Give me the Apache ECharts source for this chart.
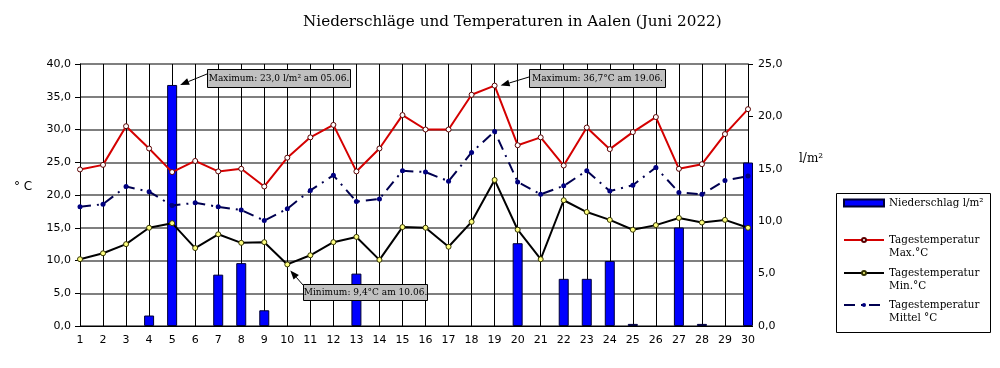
<!DOCTYPE html>
<html><head><meta charset="utf-8">
<script src="https://cdn.jsdelivr.net/npm/echarts@6/dist/echarts.min.js"></script>
<style>html,body{margin:0;padding:0;background:#fff}#c{width:1000px;height:368px}</style>
</head><body><div id="c"></div>
<script>
const days = ['1','2','3','4','5','6','7','8','9','10','11','12','13','14','15','16','17','18','19','20','21','22','23','24','25','26','27','28','29','30'];
const precipitation = [null,null,null,1.0,23.0,null,4.9,6.0,1.5,null,null,null,5.0,null,null,null,null,null,null,7.9,null,4.5,4.5,6.2,0.2,null,9.4,0.2,null,15.6];
const tempMax = [23.9,24.6,30.5,27.1,23.5,25.2,23.6,24.0,21.3,25.7,28.8,30.7,23.6,27.1,32.2,30.0,30.0,35.3,36.7,27.6,28.8,24.5,30.3,27.0,29.6,31.9,24.0,24.7,29.3,33.1];
const tempMin = [10.2,11.1,12.5,15.0,15.7,11.9,14.0,12.7,12.8,9.4,10.8,12.8,13.6,10.1,15.1,15.0,12.1,15.9,22.3,14.7,10.2,19.2,17.4,16.2,14.7,15.4,16.5,15.8,16.2,15.0];
const tempMean = [18.2,18.6,21.3,20.5,18.4,18.8,18.2,17.7,16.1,17.9,20.7,23.0,19.0,19.4,23.7,23.5,22.1,26.5,29.7,22.0,20.1,21.4,23.7,20.6,21.5,24.2,20.4,20.1,22.2,22.9];
const leftTicks = {min: 0, max: 40, interval: 5};
const rightTicks = {min: 0, max: 25, interval: 5};
const titleText = 'Niederschläge und Temperaturen in Aalen (Juni 2022)';
const seriesNames = ['Niederschlag l/m²', 'Tagestemperatur Max.°C', 'Tagestemperatur Min.°C', 'Tagestemperatur Mittel °C'];
const legendLabels = ['Niederschlag l/m²', '\nTagestemperatur\nMax.°C', '\nTagestemperatur\nMin.°C', '\nTagestemperatur\nMittel °C'];

const fmt = v => v.toFixed(1).replace('.', ',');
const SERIF = 'DejaVu Serif';
const SANS = 'DejaVu Sans';

const chart = echarts.init(document.getElementById('c'), null, {renderer: 'canvas'});

function legendAt(i, top) {
  return {
    data: [seriesNames[i]],
    left: 843, top: top, padding: 0,
    itemWidth: 40, itemHeight: i === 0 ? 7 : 5,
    selectedMode: false,
    icon: i === 0 ? 'rect' : undefined,
    formatter: () => legendLabels[i],
    textStyle: {fontFamily: SERIF, fontSize: 10.4, lineHeight: 13, color: '#000'}
  };
}

const option = {
  animation: false,
  backgroundColor: '#fff',
  title: {
    text: titleText, left: 298, top: 10,
    textStyle: {fontFamily: SERIF, fontSize: 15.2, fontWeight: 'normal', color: '#000'}
  },
  grid: {left: 80, right: 252, top: 64, bottom: 42, containLabel: false},
  legend: [legendAt(0, 196.5), legendAt(1, 220.5), legendAt(2, 253.5), legendAt(3, 285.5)],
  xAxis: {
    type: 'category', data: days, boundaryGap: false,
    axisLine: {lineStyle: {color: '#000', width: 1}},
    axisTick: {show: false},
    axisLabel: {fontFamily: SANS, fontSize: 11, color: '#000', margin: 9, interval: 0},
    splitLine: {show: true, interval: 0, lineStyle: {color: '#000', width: 1}}
  },
  yAxis: [
    {
      type: 'value', min: leftTicks.min, max: leftTicks.max, interval: leftTicks.interval,
      axisLine: {show: true, lineStyle: {color: '#000'}},
      axisTick: {show: true, length: 5, lineStyle: {color: '#000'}},
      axisLabel: {fontFamily: SANS, fontSize: 11, color: '#000', margin: 9, formatter: fmt},
      splitLine: {show: true, lineStyle: {color: '#555', width: 1.5}}
    },
    {
      type: 'value', position: 'right', min: rightTicks.min, max: rightTicks.max, interval: rightTicks.interval,
      axisLine: {show: true, lineStyle: {color: '#000'}},
      axisTick: {show: true, length: 5, lineStyle: {color: '#000'}},
      axisLabel: {fontFamily: SANS, fontSize: 11, color: '#000', margin: 10, formatter: fmt},
      splitLine: {show: false}
    }
  ],
  series: [
    {
      name: seriesNames[0], type: 'bar', yAxisIndex: 1, data: precipitation,
      barWidth: 10, clip: true,
      itemStyle: {color: '#0000ff', borderColor: '#000033', borderWidth: 1},
      z: 2
    },
    {
      name: seriesNames[1], type: 'line', data: tempMax,
      symbol: 'circle', symbolSize: 5, showAllSymbol: true,
      lineStyle: {color: '#d40000', width: 2},
      itemStyle: {color: '#ffffff', borderColor: '#5a0000', borderWidth: 1},
      z: 3
    },
    {
      name: seriesNames[2], type: 'line', data: tempMin,
      symbol: 'circle', symbolSize: 5, showAllSymbol: true,
      lineStyle: {color: '#000000', width: 2},
      itemStyle: {color: '#ffff80', borderColor: '#333300', borderWidth: 1},
      z: 3
    },
    {
      name: seriesNames[3], type: 'line', data: tempMean,
      symbol: 'circle', symbolSize: 5, showAllSymbol: true,
      lineStyle: {color: '#000050', width: 2, type: [11, 6, 2, 6]},
      itemStyle: {color: '#000080', borderColor: '#000080', borderWidth: 0},
      z: 3
    }
  ]
};
chart.setOption(option);

function arrow(sx, sy, tx, ty) {
  const dx = tx - sx, dy = ty - sy, L = Math.hypot(dx, dy);
  const ux = dx / L, uy = dy / L, hl = 9, hw = 3.5;
  const bx = tx - ux * hl, by = ty - uy * hl;
  return [
    {type: 'line', shape: {x1: sx, y1: sy, x2: bx, y2: by}, style: {stroke: '#000', lineWidth: 1}, z: 10},
    {type: 'polygon', shape: {points: [[tx, ty], [bx - uy * hw, by + ux * hw], [bx + uy * hw, by - ux * hw]]}, style: {fill: '#000'}, z: 10}
  ];
}
function box(x, y, w, h, text) {
  return [
    {type: 'rect', shape: {x: x, y: y, width: w, height: h}, style: {fill: '#c0c0c0', stroke: '#000', lineWidth: 1}, z: 10},
    {type: 'text', x: x + w / 2, y: y + h / 2 + 0.5, style: {text: text, fill: '#000', font: '9px "DejaVu Serif"', align: 'center', verticalAlign: 'middle'}, z: 11}
  ];
}

const iMaxRain = precipitation.indexOf(23.0);
const iMaxT = tempMax.indexOf(36.7);
const iMinT = tempMin.indexOf(9.4);
const pRain = chart.convertToPixel({xAxisIndex: 0, yAxisIndex: 1}, [iMaxRain, precipitation[iMaxRain]]);
const pMax = chart.convertToPixel({xAxisIndex: 0, yAxisIndex: 0}, [iMaxT, tempMax[iMaxT]]);
const pMin = chart.convertToPixel({xAxisIndex: 0, yAxisIndex: 0}, [iMinT, tempMin[iMinT]]);

const g = [].concat(
  [{type: 'rect', shape: {x: 836.5, y: 193.5, width: 154, height: 139}, style: {fill: 'none', stroke: '#000', lineWidth: 1}, z: 1}],
  [{type: 'text', x: 14, y: 181, style: {text: '° C', fill: '#000', font: '12px "DejaVu Sans"'}}],
  [{type: 'text', x: 799, y: 153, style: {text: 'l/m²', fill: '#000', font: '12px "DejaVu Serif"'}}],
  box(207.5, 69.5, 143, 18, 'Maximum: 23,0 l/m² am 05.06.'),
  arrow(207, 74, pRain[0] + 8, pRain[1]),
  box(529.5, 69.5, 136, 18, 'Maximum: 36,7°C am 19.06.'),
  arrow(529, 77, pMax[0] + 6, pMax[1]),
  box(303.5, 284.5, 124, 16, 'Minimum: 9,4°C am 10.06.'),
  arrow(303, 285, pMin[0] + 3, pMin[1] + 6)
);
chart.setOption({graphic: g});
</script></body></html>
